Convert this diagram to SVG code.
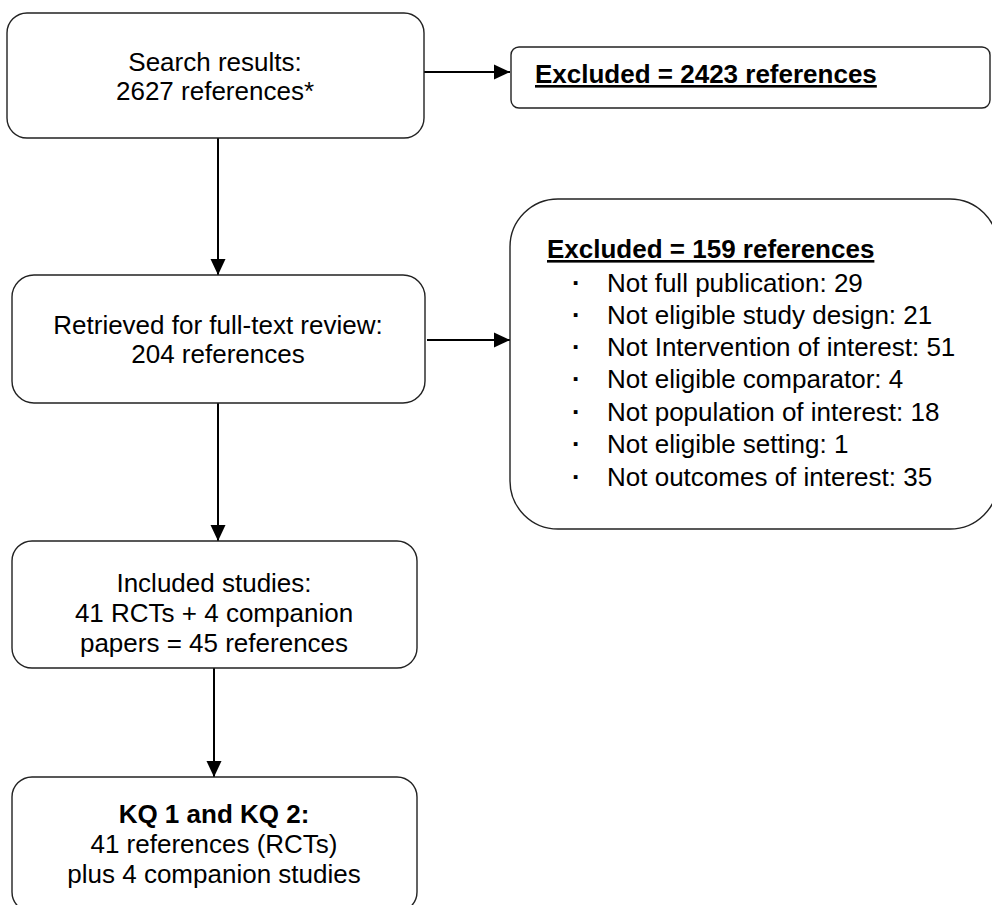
<svg xmlns="http://www.w3.org/2000/svg" width="992" height="905" viewBox="0 0 992 905">
<style>
text{font-family:"Liberation Sans",Arial,sans-serif;font-size:26px;fill:#000}
.c{text-anchor:middle}
.b{font-weight:bold}
.u{text-decoration:underline}
.d{font-weight:bold}
.box{fill:#fff;stroke:#222;stroke-width:1.4}
.ln{stroke:#000;stroke-width:2;fill:none}
</style>
<defs>
<marker id="ah" markerWidth="16" markerHeight="16" viewBox="0 0 16 16" refX="16" refY="8" orient="auto" markerUnits="userSpaceOnUse">
<path d="M0,0.5 L16,8 L0,15.5 Z" fill="#000"/>
</marker>
</defs>
<rect width="992" height="905" fill="#fff"/>
<g id="connectors">
<line class="ln" x1="424" y1="72" x2="510" y2="72" marker-end="url(#ah)"/>
<line class="ln" x1="218" y1="138" x2="218" y2="275" marker-end="url(#ah)"/>
<line class="ln" x1="427" y1="340" x2="510" y2="340" marker-end="url(#ah)"/>
<line class="ln" x1="218" y1="403" x2="218" y2="541" marker-end="url(#ah)"/>
<line class="ln" x1="214" y1="668" x2="214" y2="777" marker-end="url(#ah)"/>
</g>
<g id="search">
<rect class="box" x="7" y="13" width="417" height="125" rx="20"/>
<text class="c" x="215" y="71">Search results:</text>
<text class="c" x="215" y="100">2627 references*</text>
</g>
<g id="excluded1">
<rect class="box" x="511" y="47" width="479" height="61" rx="8"/>
<text class="b u" x="535" y="83">Excluded = 2423 references</text>
</g>
<g id="retrieved">
<rect class="box" x="12" y="275" width="413" height="128" rx="22"/>
<text class="c" x="218" y="334">Retrieved for full-text review:</text>
<text class="c" x="218" y="363">204 references</text>
</g>
<g id="excluded2">
<rect class="box" x="510" y="199" width="488" height="330" rx="48"/>
<text class="b u" x="547" y="258">Excluded = 159 references</text>
<text class="d" x="572" y="292">·</text><text x="607" y="292">Not full publication: 29</text>
<text class="d" x="572" y="324">·</text><text x="607" y="324">Not eligible study design: 21</text>
<text class="d" x="572" y="356">·</text><text x="607" y="356">Not Intervention of interest: 51</text>
<text class="d" x="572" y="388">·</text><text x="607" y="388">Not eligible comparator: 4</text>
<text class="d" x="572" y="421">·</text><text x="607" y="421">Not population of interest: 18</text>
<text class="d" x="572" y="453">·</text><text x="607" y="453">Not eligible setting: 1</text>
<text class="d" x="572" y="486">·</text><text x="607" y="486">Not outcomes of interest: 35</text>
</g>
<g id="included">
<rect class="box" x="12" y="541" width="405" height="127" rx="20"/>
<text class="c" x="214" y="592">Included studies:</text>
<text class="c" x="214" y="622">41 RCTs + 4 companion</text>
<text class="c" x="214" y="652">papers = 45 references</text>
</g>
<g id="kq">
<rect class="box" x="12" y="777" width="405" height="135" rx="20"/>
<text class="c b" x="214" y="823">KQ 1 and KQ 2:</text>
<text class="c" x="214" y="853">41 references (RCTs)</text>
<text class="c" x="214" y="883">plus 4 companion studies</text>
</g>
</svg>
